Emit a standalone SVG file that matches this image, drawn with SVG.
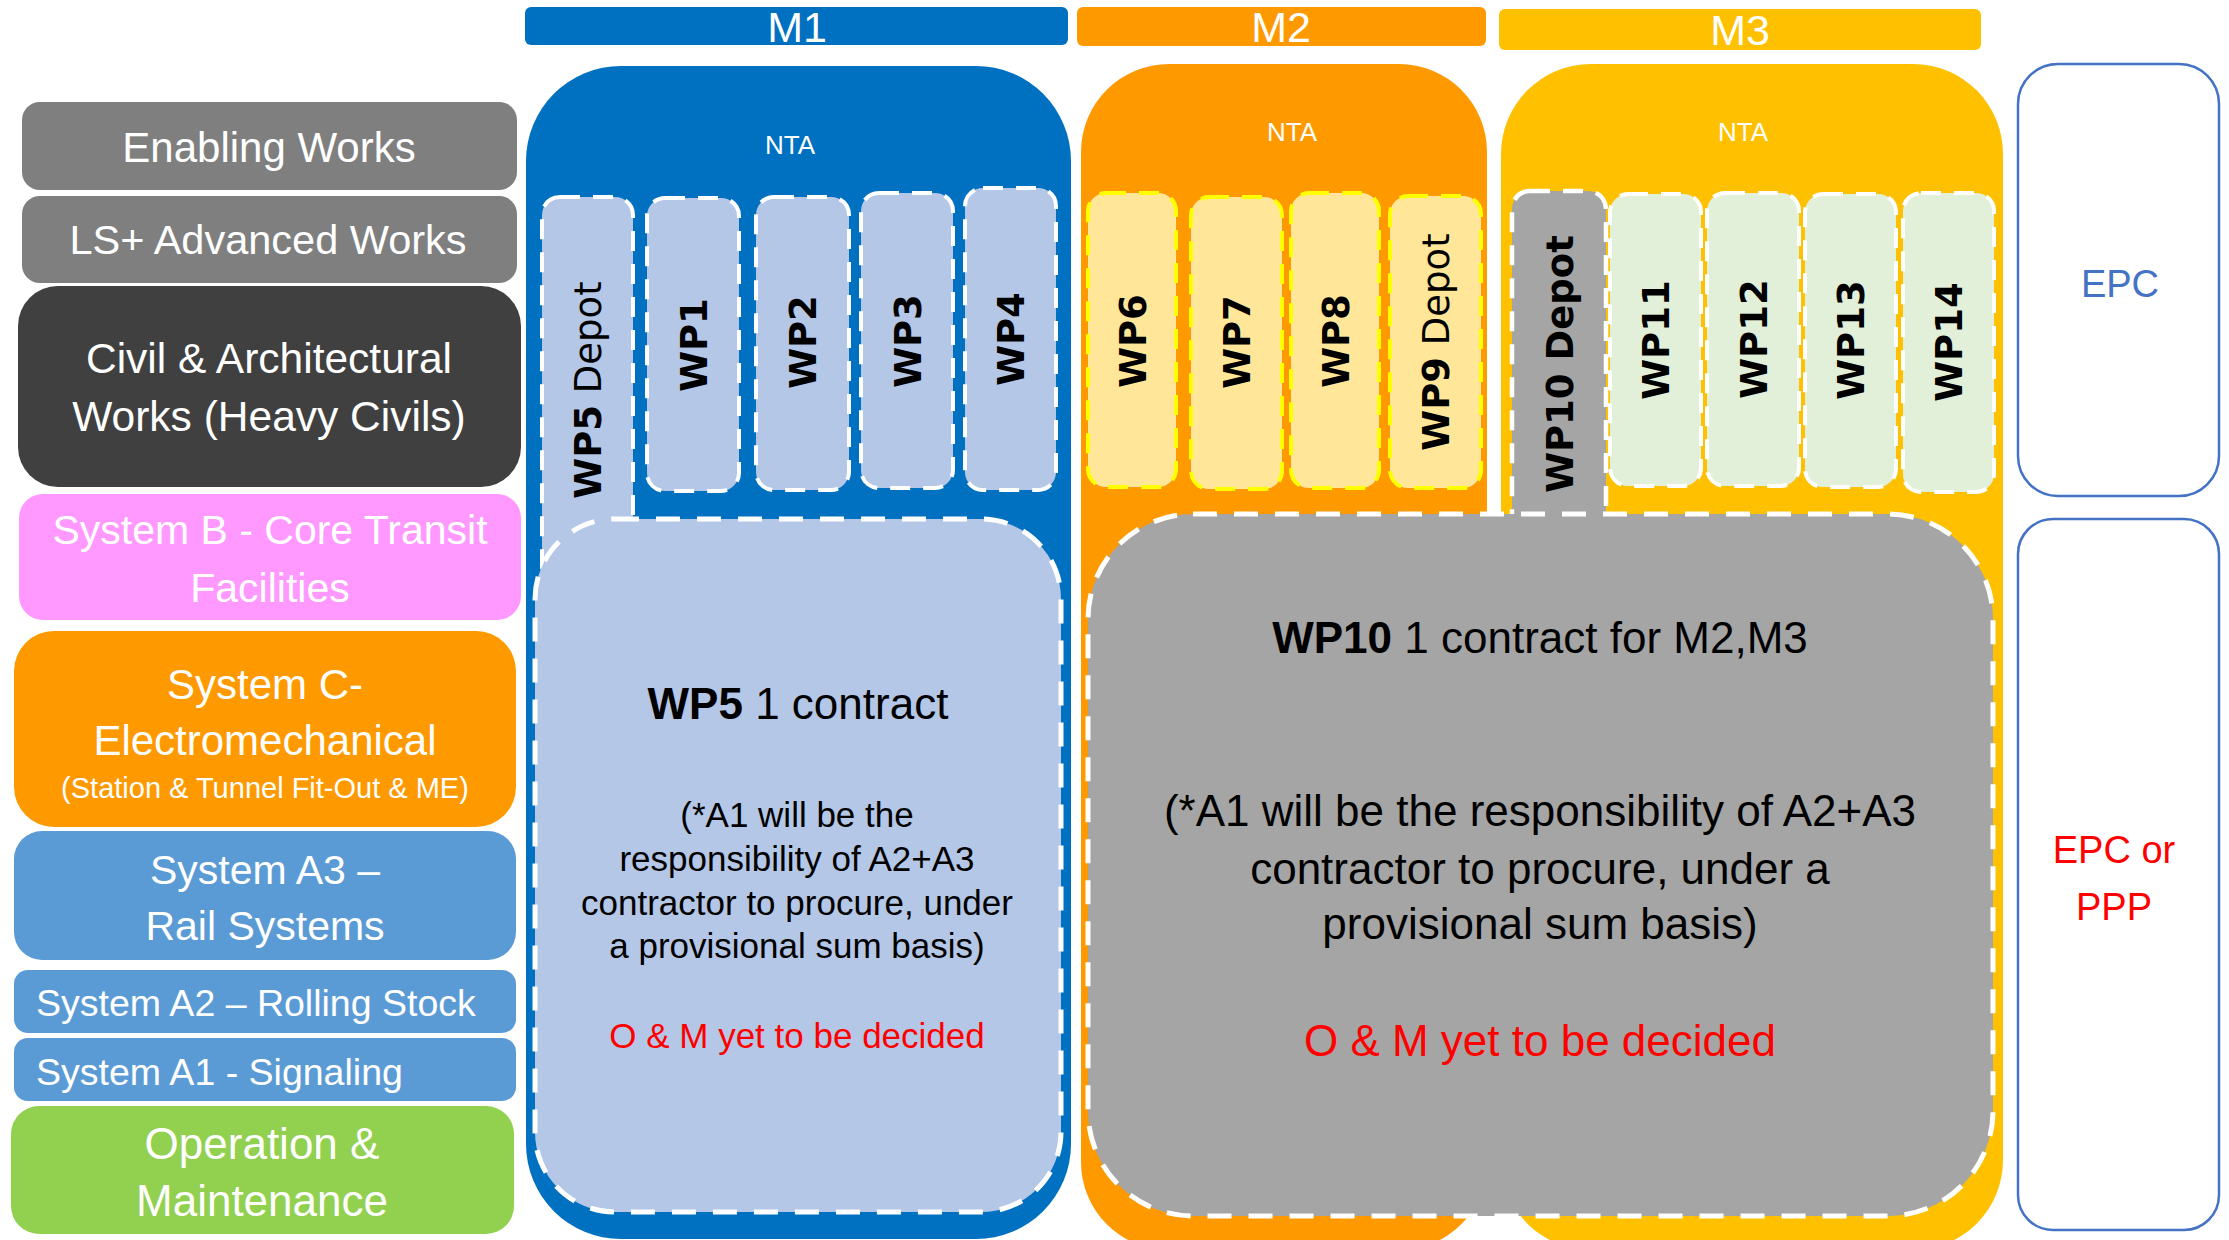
<svg xmlns="http://www.w3.org/2000/svg" width="2229" height="1240" viewBox="0 0 2229 1240">
<style>
  .t { font-family: "Liberation Sans", Arial, sans-serif; }
  .w { fill: #FFFFFF; }
  .k { fill: #000000; }
  .red { fill: #FF0000; }
  .vt { font-family: "DejaVu Sans", Verdana, sans-serif; font-size: 37px; font-weight: bold; fill: #000000; }
  .reg { font-weight: normal; }
  .colB { fill: #B4C7E7; stroke: #FFFFFF; stroke-width: 4; stroke-dasharray: 20 13; }
  .colY { fill: #FFE699; stroke: #FFFF00; stroke-width: 4; stroke-dasharray: 20 13; }
  .colG { fill: #E2F0D9; stroke: #FFFFFF; stroke-width: 4; stroke-dasharray: 20 13; }
  .colD { fill: #A5A5A5; stroke: #FFFFFF; stroke-width: 4.5; stroke-dasharray: 20 13; }
  .big { stroke: #FFFFFF; stroke-width: 5; stroke-dasharray: 24 17; }
  .epc { fill: #FFFFFF; stroke: #4472C4; stroke-width: 2.5; }
</style>
<rect width="2229" height="1240" fill="#FFFFFF"/>

<!-- Left column categories -->
<g id="enabling-works">
  <rect x="22" y="102" width="495" height="88" rx="18" fill="#7F7F7F"/>
  <text class="t w" x="269" y="162" font-size="42" text-anchor="middle">Enabling Works</text>
</g>
<g id="ls-advanced-works">
  <rect x="22" y="196" width="495" height="87" rx="18" fill="#7F7F7F"/>
  <text class="t w" x="268" y="254" font-size="41.5" text-anchor="middle">LS+ Advanced Works</text>
</g>
<g id="civil-works">
  <rect x="18" y="286" width="503" height="201" rx="40" fill="#404040"/>
  <text class="t w" font-size="42.5" text-anchor="middle"><tspan x="269" y="373">Civil &amp; Architectural</tspan><tspan x="269" y="431">Works (Heavy Civils)</tspan></text>
</g>
<g id="system-b">
  <rect x="19" y="494" width="502" height="126" rx="24" fill="#FF99FF"/>
  <text class="t w" font-size="41" text-anchor="middle"><tspan x="270" y="544">System B - Core Transit</tspan><tspan x="270" y="602">Facilities</tspan></text>
</g>
<g id="system-c">
  <rect x="14" y="631" width="502" height="196" rx="40" fill="#FF9900"/>
  <text class="t w" font-size="42" text-anchor="middle"><tspan x="265" y="699">System C-</tspan><tspan x="265" y="755">Electromechanical</tspan></text>
  <text class="t w" x="265" y="798" font-size="29" text-anchor="middle">(Station &amp; Tunnel Fit-Out &amp; ME)</text>
</g>
<g id="system-a3">
  <rect x="14" y="831" width="502" height="129" rx="28" fill="#5B9BD5"/>
  <text class="t w" font-size="41" text-anchor="middle"><tspan x="265" y="884">System A3 –</tspan><tspan x="265" y="940">Rail Systems</tspan></text>
</g>
<g id="system-a2">
  <rect x="14" y="970" width="502" height="63" rx="14" fill="#5B9BD5"/>
  <text class="t w" x="36" y="1016" font-size="37.5">System A2 – Rolling Stock</text>
</g>
<g id="system-a1">
  <rect x="14" y="1038" width="502" height="63" rx="14" fill="#5B9BD5"/>
  <text class="t w" x="36" y="1085" font-size="37.5">System A1 - Signaling</text>
</g>
<g id="operation-maintenance">
  <rect x="11" y="1106" width="503" height="128" rx="28" fill="#92D050"/>
  <text class="t w" font-size="44" text-anchor="middle"><tspan x="262" y="1159">Operation &amp;</tspan><tspan x="262" y="1216">Maintenance</tspan></text>
</g>

<!-- Line headers -->
<g id="m1-header">
  <rect x="525" y="7" width="543" height="38" rx="6" fill="#0070C0"/>
  <text class="t w" x="797" y="42" font-size="43" text-anchor="middle">M1</text>
</g>
<g id="m2-header">
  <rect x="1077" y="7" width="409" height="39" rx="6" fill="#FF9900"/>
  <text class="t w" x="1281" y="42" font-size="43" text-anchor="middle">M2</text>
</g>
<g id="m3-header">
  <rect x="1499" y="9" width="482" height="41" rx="6" fill="#FFC000"/>
  <text class="t w" x="1740" y="45" font-size="43" text-anchor="middle">M3</text>
</g>

<!-- M1 container -->
<g id="m1">
  <rect x="526" y="66" width="545" height="1173" rx="95" fill="#0070C0"/>
  <text class="t w" x="790" y="154" font-size="26" text-anchor="middle">NTA</text>
</g>
<g id="m2">
  <rect x="1081" y="64" width="406" height="1186" rx="88" fill="#FF9900"/>
  <text class="t w" x="1292" y="141" font-size="26" text-anchor="middle">NTA</text>
</g>
<g id="m3">
  <rect x="1501" y="64" width="502" height="1186" rx="90" fill="#FFC000"/>
  <text class="t w" x="1743" y="141" font-size="26" text-anchor="middle">NTA</text>
</g>

<!-- M1 work packages -->
<g id="wp5-depot">
  <rect class="colB" x="542" y="197" width="91" height="413" rx="18"/>
  <text class="vt" transform="translate(601 390) rotate(-90)" text-anchor="middle">WP5<tspan class="reg"> Depot</tspan></text>
</g>
<g id="wp1">
  <rect class="colB" x="647" y="198" width="92" height="293" rx="18"/>
  <text class="vt" transform="translate(706.5 345) rotate(-90)" text-anchor="middle">WP1</text>
</g>
<g id="wp2">
  <rect class="colB" x="756" y="197" width="93" height="293" rx="18"/>
  <text class="vt" transform="translate(816 342) rotate(-90)" text-anchor="middle">WP2</text>
</g>
<g id="wp3">
  <rect class="colB" x="861" y="193" width="92" height="295" rx="18"/>
  <text class="vt" transform="translate(920.5 341) rotate(-90)" text-anchor="middle">WP3</text>
</g>
<g id="wp4">
  <rect class="colB" x="965" y="188" width="91" height="302" rx="18"/>
  <text class="vt" transform="translate(1024 339) rotate(-90)" text-anchor="middle">WP4</text>
</g>
<g id="wp5">
  <rect class="big" x="535" y="519" width="526" height="693" rx="80" fill="#B4C7E7"/>
  <text class="t k" x="798" y="719" font-size="44" text-anchor="middle"><tspan font-weight="bold">WP5</tspan> 1 contract</text>
  <text class="t k" font-size="35" text-anchor="middle"><tspan x="797" y="827">(*A1 will be the</tspan><tspan x="797" y="871">responsibility of A2+A3</tspan><tspan x="797" y="915">contractor to procure, under</tspan><tspan x="797" y="958">a provisional sum basis)</tspan></text>
  <text class="t red" x="797" y="1048" font-size="35" text-anchor="middle">O &amp; M yet to be decided</text>
</g>

<!-- M2 work packages -->
<g id="wp6">
  <rect class="colY" x="1088" y="193" width="88" height="294" rx="18"/>
  <text class="vt" transform="translate(1145.5 341) rotate(-90)" text-anchor="middle">WP6</text>
</g>
<g id="wp7">
  <rect class="colY" x="1191" y="197" width="91" height="292" rx="18"/>
  <text class="vt" transform="translate(1250 342) rotate(-90)" text-anchor="middle">WP7</text>
</g>
<g id="wp8">
  <rect class="colY" x="1291" y="193" width="88" height="295" rx="18"/>
  <text class="vt" transform="translate(1348.5 341) rotate(-90)" text-anchor="middle">WP8</text>
</g>
<g id="wp9-depot">
  <rect class="colY" x="1390" y="196" width="91" height="292" rx="18"/>
  <text class="vt" transform="translate(1449 342) rotate(-90)" text-anchor="middle">WP9<tspan class="reg"> Depot</tspan></text>
</g>

<!-- M3 work packages -->
<g id="wp10-depot">
  <rect class="colD" x="1512" y="191" width="94" height="360" rx="18"/>
  <text class="vt" transform="translate(1572.5 364) rotate(-90)" text-anchor="middle">WP10 Depot</text>
</g>
<g id="wp11">
  <rect class="colG" x="1610" y="194" width="91" height="292" rx="18"/>
  <text class="vt" transform="translate(1669 340) rotate(-90)" text-anchor="middle">WP11</text>
</g>
<g id="wp12">
  <rect class="colG" x="1707" y="193" width="92" height="293" rx="18"/>
  <text class="vt" transform="translate(1766.5 339) rotate(-90)" text-anchor="middle">WP12</text>
</g>
<g id="wp13">
  <rect class="colG" x="1805" y="194" width="91" height="293" rx="18"/>
  <text class="vt" transform="translate(1864 340) rotate(-90)" text-anchor="middle">WP13</text>
</g>
<g id="wp14">
  <rect class="colG" x="1903" y="193" width="91" height="299" rx="18"/>
  <text class="vt" transform="translate(1962 342) rotate(-90)" text-anchor="middle">WP14</text>
</g>
<g id="wp10">
  <rect class="big" x="1088" y="514" width="905" height="702" rx="105" fill="#A5A5A5"/>
  <text class="t k" x="1540" y="653" font-size="44" text-anchor="middle"><tspan font-weight="bold">WP10</tspan> 1 contract for M2,M3</text>
  <text class="t k" font-size="44" text-anchor="middle"><tspan x="1540" y="826">(*A1 will be the responsibility of A2+A3</tspan><tspan x="1540" y="884">contractor to procure, under a</tspan><tspan x="1540" y="939">provisional sum basis)</tspan></text>
  <text class="t red" x="1540" y="1056" font-size="44" text-anchor="middle">O &amp; M yet to be decided</text>
</g>

<!-- Right column -->
<g id="epc">
  <rect class="epc" x="2018" y="64" width="201" height="432" rx="40"/>
  <text class="t" x="2120" y="297" font-size="38" fill="#4472C4" text-anchor="middle">EPC</text>
</g>
<g id="epc-or-ppp">
  <rect class="epc" x="2018" y="519" width="201" height="711" rx="35"/>
  <text class="t red" font-size="38" text-anchor="middle"><tspan x="2114" y="863">EPC or</tspan><tspan x="2114" y="920">PPP</tspan></text>
</g>

<g id="connectors"/>
</svg>
